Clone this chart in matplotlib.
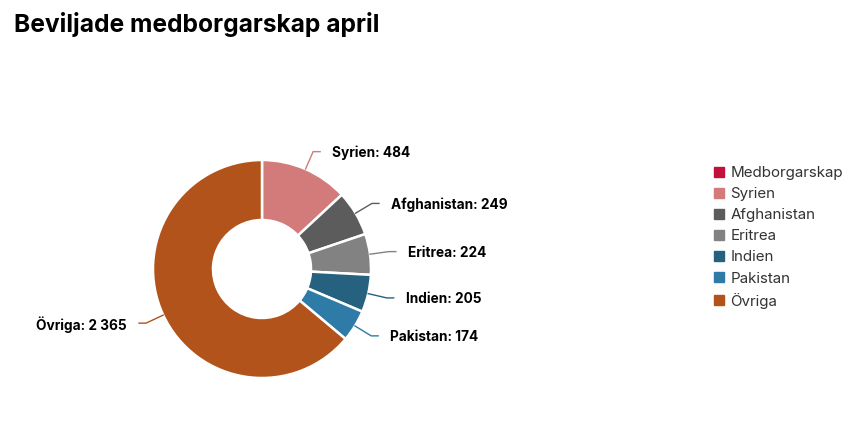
import matplotlib
matplotlib.use("Agg")
import matplotlib.pyplot as plt
import numpy as np
from matplotlib.lines import Line2D

plt.rcParams['font.family'] = ['Inter', 'DejaVu Sans']

title = "Beviljade medborgarskap april"
categories = ["Syrien", "Afghanistan", "Eritrea", "Indien", "Pakistan", "Övriga"]
values = [484, 249, 224, 205, 174, 2365]
value_labels = ["484", "249", "224", "205", "174", "2 365"]
colors = ["#d37a7a", "#5c5c5c", "#828282", "#26617f", "#2e7ba8", "#b1531a"]
legend_labels = ["Medborgarskap"] + categories
legend_colors = ["#c20f3b"] + colors

W, H = 851, 422
fig = plt.figure(figsize=(W / 100, H / 100), dpi=100)
ax = fig.add_axes([0, 0, 1, 1])

cx, cy, R = 262, H - 269, 109
wedges, _ = ax.pie(values, colors=colors, startangle=90, counterclock=False,
                   center=(cx, cy), radius=R,
                   wedgeprops=dict(width=60, edgecolor="white", linewidth=1.8,
                                   joinstyle="round"))
ax.set_xlim(0, W)
ax.set_ylim(0, H)
ax.set_aspect("equal")
ax.axis("off")

R_elbow = 128
for w, cat, vl, col in zip(wedges, categories, value_labels, colors):
    mid = np.deg2rad((w.theta1 + w.theta2) / 2)
    x0, y0 = cx + R * np.cos(mid), cy + R * np.sin(mid)
    x1, y1 = cx + R_elbow * np.cos(mid), cy + R_elbow * np.sin(mid)
    side = 1 if np.cos(mid) >= 0 else -1
    x2 = x1 + side * 7
    ax.plot([x0, x1, x2], [y0, y1, y1], color=col, lw=1, solid_joinstyle="miter")
    ax.text(x1 + side * 19, y1 - 1.5, f"{cat}: {vl}", ha="left" if side > 0 else "right",
            va="center", fontsize=9.85, fontweight="bold", color="#000000")

fig.text(14 / W, 1 - 24.5 / H, title, fontsize=17.7, fontweight="bold",
         ha="left", va="center", color="#000000")

handles = [Line2D([], [], marker="s", linestyle="none", markersize=7.8,
                  markerfacecolor=c, markeredgecolor=c) for c in legend_colors]
leg = fig.legend(handles, legend_labels, loc="upper left",
                 bbox_to_anchor=(713 / W, 1 - 166 / H), frameon=False,
                 fontsize=10.9, labelspacing=0.47, handlelength=0.8,
                 handletextpad=0.35, borderaxespad=0, borderpad=0)
for t in leg.get_texts():
    t.set_color("#333333")

fig.savefig("out.png", dpi=100)
